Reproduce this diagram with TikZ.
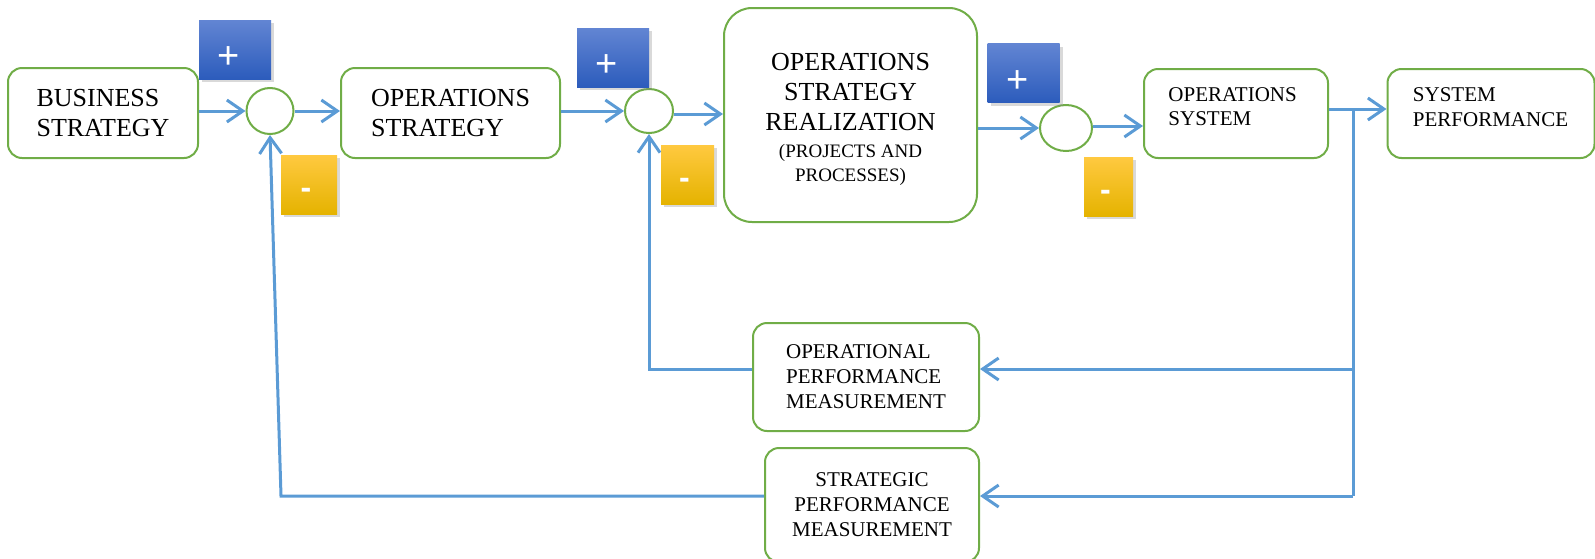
\documentclass[tikz,border=0pt]{standalone}
\usepackage{fontspec}
\setmainfont{Liberation Serif}
\newfontfamily\signo{Liberation Sans}
\usepackage{tikz}
\usetikzlibrary{arrows.meta,shapes.geometric,shadows,calc,positioning}
\definecolor{verdeCaja}{RGB}{112,173,71}
\definecolor{azulFlecha}{RGB}{91,155,213}
\definecolor{azulClaro}{RGB}{98,133,211}
\definecolor{azulOscuro}{RGB}{44,92,188}
\definecolor{oroClaro}{RGB}{255,201,64}
\definecolor{oro}{RGB}{255,192,0}
\definecolor{oroOscuro}{RGB}{229,179,0}
\tikzstyle{block}=[draw=verdeCaja, line width=1pt, rounded corners=7pt,
                   fill=white, inner sep=0pt, align=left,
                   font=\fontsize{13}{15}\selectfont]
\tikzstyle{smallblock}=[block, font=\fontsize{10.5}{12.5}\selectfont]
\tikzstyle{blocktext}=[inner sep=0pt, align=left,
                   font=\fontsize{10.5}{12}\selectfont]
\tikzstyle{sumpoint}=[ellipse, draw=verdeCaja, line width=1pt,
                   fill=white, inner sep=0pt]
\tikzstyle{signbox}=[inner sep=0pt, minimum height=29.5pt,
                   drop shadow={shadow xshift=1.5pt, shadow yshift=-1.5pt,
                   opacity=.3}]
\tikzstyle{plusbox}=[signbox, top color=azulClaro, bottom color=azulOscuro,
                   minimum width=36pt]
\tikzstyle{minusbox}=[signbox, top color=oroClaro, middle color=oro,
                   bottom color=oroOscuro]
\tikzstyle{signtext}=[inner sep=0pt, anchor=base, text=white]
\tikzstyle{link}=[draw=azulFlecha, line width=1.5pt]
\tikzstyle{flow}=[link, -{Straight Barb[length=8pt, width=11pt]}]

\begin{document}
\begin{tikzpicture}[x=0.5pt, y=-0.5pt]
    \useasboundingbox (0,0) rectangle (1595,558);

    \node[block, minimum width=95pt, minimum height=45pt] (bus) at (103,113)
        {BUSINESS\\STRATEGY};
    \node[block, minimum width=109.5pt, minimum height=45pt] (ostr) at (450.5,113)
        {OPERATIONS\\STRATEGY};
    \node[block, align=center, rounded corners=14pt, minimum width=126.5pt,
          minimum height=107pt] (real) at (850.5,115)
        {\rule{0pt}{13pt}OPERATIONS\\STRATEGY\\REALIZATION\\[-1.5pt]%
         \fontsize{9.5}{12}\selectfont(PROJECTS AND\\[-2.8pt]%
         \fontsize{9.5}{12}\selectfont PROCESSES)};
    \node[smallblock, minimum width=92pt, minimum height=44.5pt] (osys) at (1236,113.5) {};
    \node[smallblock, minimum width=103.5pt, minimum height=44.5pt] (sper) at (1491,113.5) {};
    \node[blocktext, below right=9.75pt and 12.5pt of osys.north west] (osysT)
        {OPERATIONS\\SYSTEM};
    \node[blocktext, below right=9.75pt and 13pt of sper.north west] (sperT)
        {SYSTEM\\[0.5pt]PERFORMANCE};
    \node[smallblock, minimum width=113pt, minimum height=54pt] (opm) at (866,377)
        {OPERATIONAL\\PERFORMANCE\\MEASUREMENT};
    \node[smallblock, align=center, minimum width=107pt, minimum height=57pt] (spm)
        at (872,505) {STRATEGIC\\PERFORMANCE\\MEASUREMENT};

    \node[sumpoint, minimum width=23.5pt, minimum height=23pt] (c1) at (270,111) {};
    \node[sumpoint, minimum width=24pt, minimum height=22pt] (c2) at (649,111) {};
    \node[sumpoint, minimum width=26pt, minimum height=23pt] (c3) at (1066,128) {};

    \foreach \i/\x/\y in {1/235/49.5, 2/613/57.5, 3/1023.5/73}{
        \node[plusbox] (p\i) at (\x,\y) {};
        \node[signtext, font=\signo\fontsize{19}{19}\selectfont]
            (p\i t) at ([shift={(-3.2pt,-9.5pt)}]p\i.center) {+};
    }
    \foreach \i/\x/\y/\w in {1/309/184.5/28, 2/687.5/174.5/26.5, 3/1108.5/186.5/24.5}{
        \node[minusbox, minimum width=\w pt] (m\i) at (\x,\y) {};
        \node[signtext, font=\signo\bfseries\fontsize{16}{16}\selectfont]
            (m\i t) at ([shift={(-1.5pt,-6.8pt)}]m\i.center) {-};
    }

    \coordinate (br) at (1353,109);
    \coordinate (fbA) at (1353,369);
    \coordinate (fbB) at (1353,496);
    \coordinate (fbC) at (281,496);

    \draw[flow] (bus.east |- c1) -- (c1.west);
    \draw[flow] (c1.east) -- (c1 -| ostr.west);
    \draw[flow] (ostr.east |- c2) -- (c2.west);
    \draw[flow] ([yshift=-1.5pt]c2.east) -- ([yshift=-1.5pt]c2 -| real.west);
    \draw[flow] (real.east |- c3) -- (c3.west);
    \draw[flow] ([yshift=1pt]c3.east) -- ([yshift=1pt]c3 -| osys.west);
    \draw[flow] (osys.east |- br) -- (br -| sper.west);
    \draw[link] (br) -- (fbB);
    \draw[flow] (fbA) -- (fbA -| opm.east);
    \draw[flow] (fbB) -- (fbB -| spm.east);
    \draw[flow] (fbA -| opm.west) -- (fbA -| c2) -- (c2.south);
    \draw[flow] (fbB -| spm.west) -- (fbC) -- (c1.south);

\end{tikzpicture}
\end{document}
